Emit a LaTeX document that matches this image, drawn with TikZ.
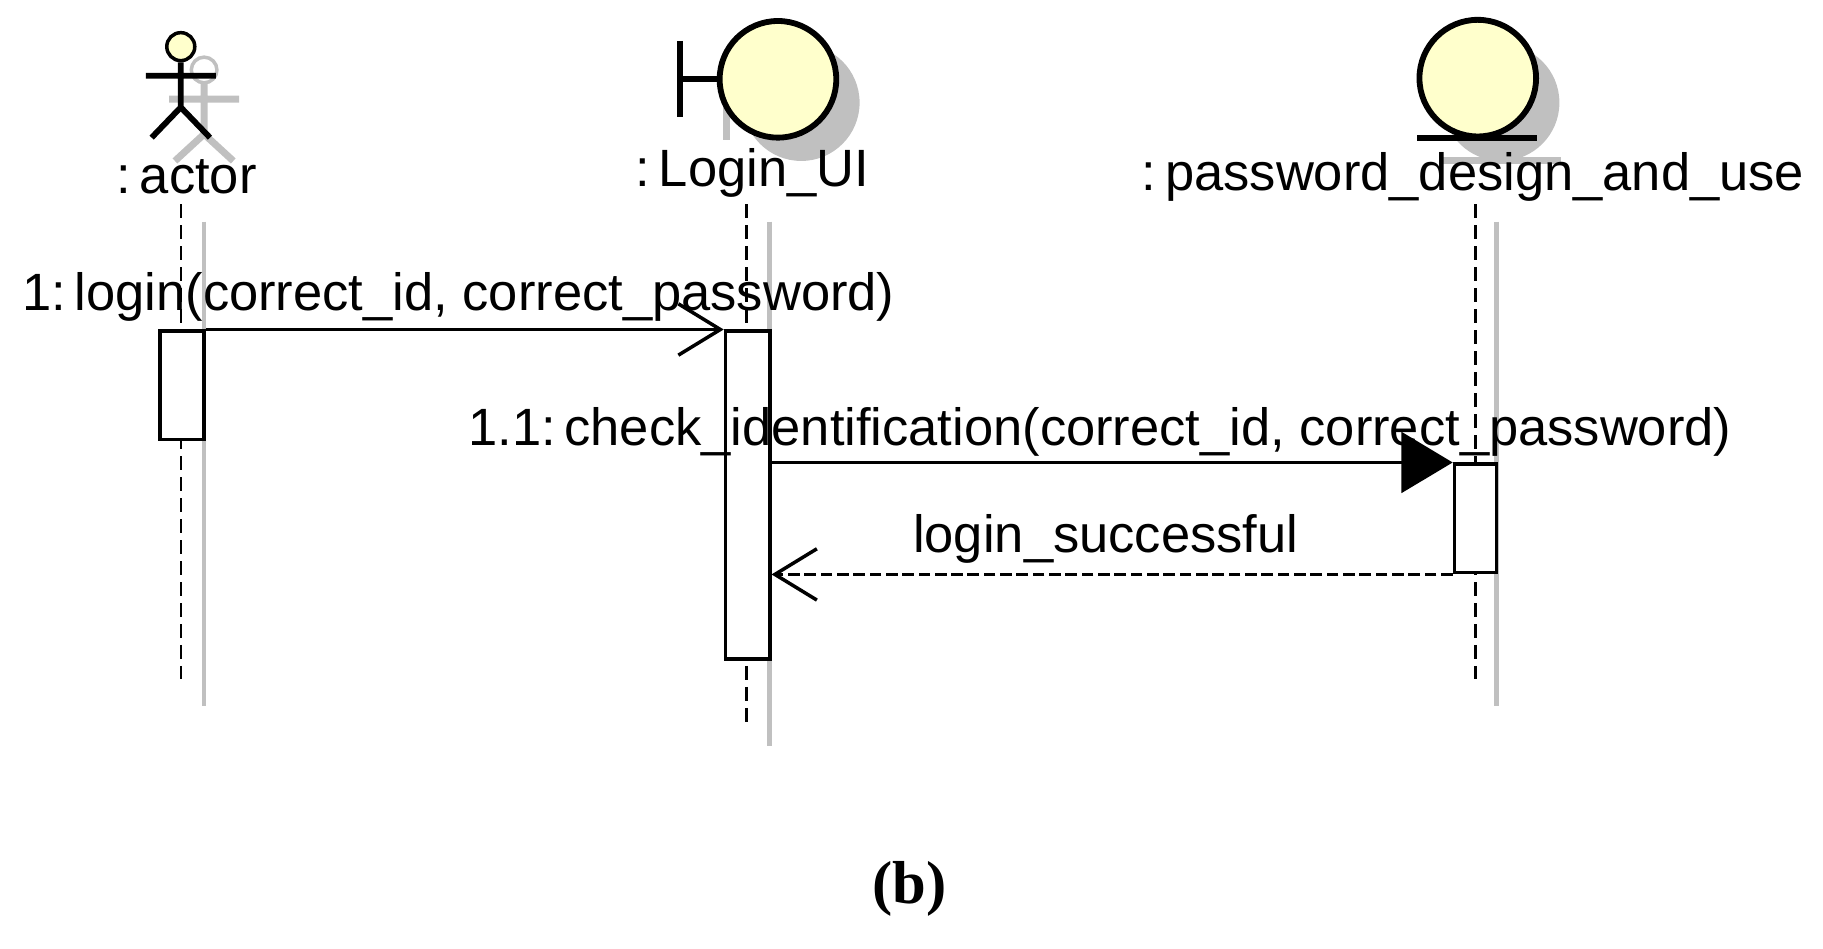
\documentclass[tikz,border=0pt]{standalone}
\usepackage{fontspec}
\setmainfont{Liberation Sans}
\newfontfamily\serifb{Liberation Serif}
\usetikzlibrary{arrows.meta}
\definecolor{ufill}{RGB}{255,255,204}
\definecolor{shad}{RGB}{192,192,192}
\begin{document}
\begin{tikzpicture}[x=0.5pt,y=-0.5pt,line width=1.5pt,
 lbl/.style={font=\fontsize{22.5}{26}\selectfont,inner sep=0pt},
 act/.style={draw,fill=white,line width=1.5pt},
 life/.style={dashed,dash pattern=on 6pt off 3pt,line width=1pt},
 glife/.style={shad,line width=2pt},
 open/.style={-{Straight Barb[length=18pt,width=22pt,line width=1.5pt]}},
 filled/.style={-{Triangle[length=22pt,width=26pt]}}]
\useasboundingbox (0,0) rectangle (1563,813);
% shadows
\begin{scope}[shad,line width=3pt,shift={(20,20)}]
 \draw (155,52) -- (155,95) (125,65)--(185,65) (155,95)--(130,118) (155,95)--(180,118);
 \draw[line width=1.5pt] (155,40) circle (11);
 \draw (603,35)--(603,100) (603,68)--(637,68);
 \fill (667,68) circle (50);
 \fill (1267,68) circle (50);
 \draw (1215,118)--(1318,118);
\end{scope}
% actor
\node[draw,circle,fill=ufill,minimum size=12pt,inner sep=0pt,line width=1.5pt] (head) at (155,40) {};
\draw[line width=2.5pt] (head.south) -- (155,92) coordinate (hip) (125,65)--(185,65) (hip)--(130,118) (hip)--(180,118);
\node[lbl] (actl) at (160,152) {:\,actor};
% boundary
\node[draw,circle,fill=ufill,minimum size=50pt,inner sep=0pt,line width=2.5pt] (ui) at (667,68) {};
\draw[line width=2.5pt] (583,35)--(583,100) (583,68)--(ui.west);
\node[lbl] (uil) at (645,148) {:\,Login\_UI};
% entity
\node[draw,circle,fill=ufill,minimum size=50pt,inner sep=0pt,line width=2.5pt] (ent) at (1267,67) {};
\draw[line width=2.5pt] (1215,118)--(1318,118);
\node[lbl] (entl) at (1263,152) {:\,password\_design\_and\_use};
% lifelines
\draw[glife] (175,190)--(175,605);
\draw[glife] (660,190)--(660,640);
\draw[glife] (1283,190)--(1283,605);
\draw[life] (155,175)--(155,582);
\draw[life] (640,175)--(640,620);
\draw[life] (1265,175)--(1265,582);
% activations
\node[act,minimum width=19pt,minimum height=46.5pt,inner sep=0pt] (a1) at (156,330.5) {};
\node[act,minimum width=19pt,minimum height=140.5pt,inner sep=0pt] (a2) at (641,424.5) {};
\node[act,minimum width=18pt,minimum height=46.5pt,inner sep=0pt] (a3) at (1265,444.5) {};
% messages
\draw[open] (a1.north east) -- (a2.north west);
\node[lbl] (m1) at (393,255) {1:\,login(correct\_id, correct\_password)};
\draw[filled] (a2.east |- a3.north) -- (a3.north west);
\node[lbl] (m2) at (943,370) {1.1:\,check\_identification(correct\_id, correct\_password)};
\draw[open,dashed,dash pattern=on 5pt off 2pt] (a3.south west) -- (a2.east |- a3.south);
\node[lbl] (m3) at (948,462) {login\_successful};
\node[font=\fontsize{26}{30}\selectfont\serifb\bfseries] (cap) at (780,762) {(b)};
\end{tikzpicture}
\end{document}
